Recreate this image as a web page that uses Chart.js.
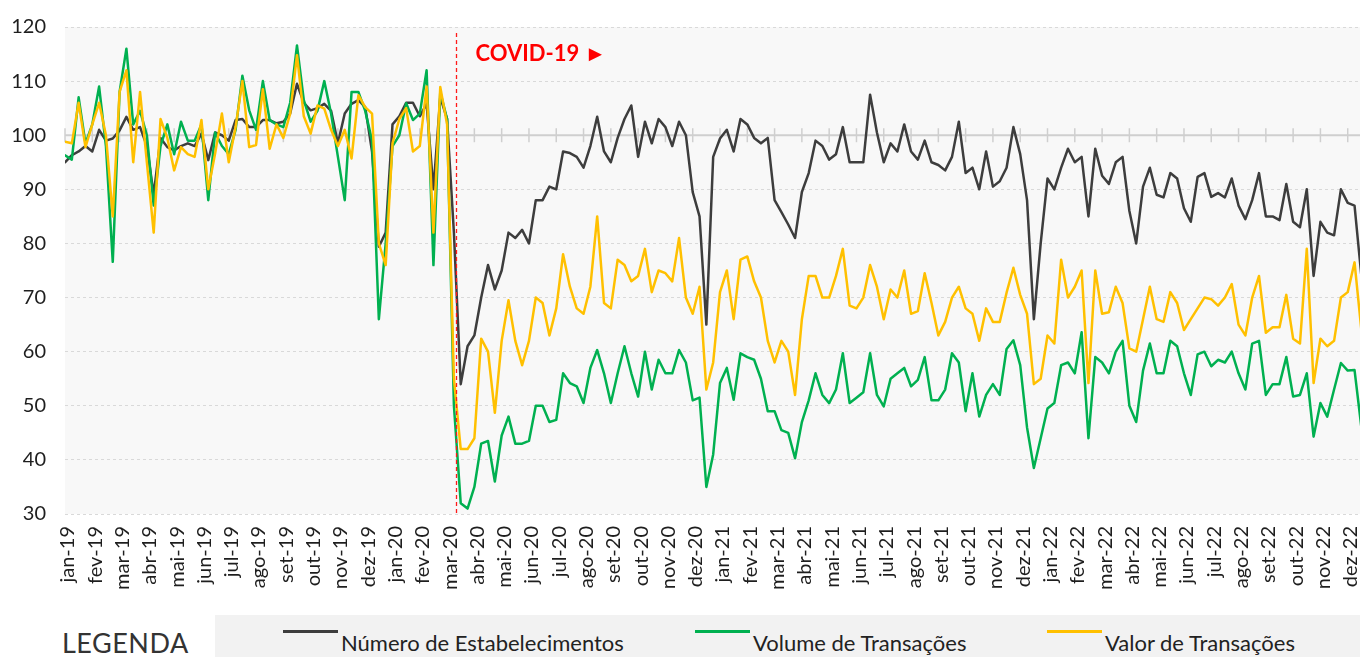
<!DOCTYPE html>
<html>
<head>
<meta charset="utf-8">
<script src="https://cdn.jsdelivr.net/npm/chart.js@4.4.0/dist/chart.umd.min.js"></script>
<style>
  html, body { margin:0; padding:0; background:#fff; width:1360px; height:657px; overflow:hidden; font-family: Lato, "Noto Sans", sans-serif; }
  #chartWrap { position:absolute; left:0; top:0; width:1360px; height:612px; }
  #legendTitle { position:absolute; left:62px; top:627px; font-size:27px; line-height:32px; color:#333; letter-spacing:0.5px; }
  #legendBox { position:absolute; left:215px; top:615px; width:1145px; height:42px; background:#f2f2f2; }
  .item { position:absolute; top:14px; height:28px; font-size:22px; line-height:28px; color:#222; white-space:nowrap; }
  .swatch { position:absolute; top:15px; width:55px; height:3px; }
</style>
</head>
<body>
<div id="chartWrap"><canvas id="c" width="1360" height="612"></canvas></div>
<div id="legendTitle">LEGENDA</div>
<div id="legendBox"></div>
<script>
// ---------- DATA (4 samples per month) ----------
const months = ["jan-19","fev-19","mar-19","abr-19","mai-19","jun-19","jul-19","ago-19","set-19","out-19","nov-19","dez-19",
                "jan-20","fev-20","mar-20","abr-20","mai-20","jun-20","jul-20","ago-20","set-20","out-20","nov-20","dez-20",
                "jan-21","fev-21","mar-21","abr-21","mai-21","jun-21","jul-21","ago-21","set-21","out-21","nov-21","dez-21",
                "jan-22","fev-22","mar-22","abr-22","mai-22","jun-22","jul-22","ago-22","set-22","out-22","nov-22","dez-22"];
const samplesPerMonth = 4;
const covidMonth = 14.33;        // ~11 Mar 2020
const baseValue = 100;
const seriesNames = ["Número de Estabelecimentos", "Volume de Transações", "Valor de Transações"];

const estabelecimentos = [
  95, 96.3, 97, 98,        97, 101, 99, 99.4,        100.9, 103.4, 101, 101.5,   98, 89, 99.5, 97.8,
  97.2, 98, 98.5, 98,      100.3, 95.4, 100.5, 100,  99, 102.8, 103, 101.5,      101.5, 102.8, 102.8, 102.2,
  102.5, 104, 109.5, 106,  104.6, 105, 105.8, 104.5, 98.5, 104, 105.8, 106.5,    105.2, 97, 79.4, 82,
  102, 103.5, 106, 106,    103.5, 105.8, 90, 107,    103, 82, 54, 61,            63, 70, 76, 71.5,
  75, 82, 81, 82.5,        80, 88, 88, 90.5,         90, 97, 96.7, 96,           94, 98, 103.4, 97,
  95, 99.5, 103, 105.5,    96, 102.5, 98.5, 103,     101.5, 98, 102.5, 100,      89.5, 85, 65, 96,
  99.4, 101, 97, 103,      102, 99.5, 98.5, 99.5,    88, 85.8, 83.5, 81,         89.5, 93, 99, 98,
  95.5, 96.5, 101.5, 95,   95, 95, 107.5, 100.5,     95, 98.5, 97, 102,          97, 95.5, 99, 95,
  94.5, 93.5, 96, 102.5,   93, 94, 90, 97,           90.5, 91.5, 94, 101.5,      96.5, 88, 66, 80,
  92, 90, 94, 97.5,        95, 96, 85, 97.5,         92.5, 91, 95, 96,           86, 80, 90.5, 94,
  89, 88.5, 93, 92,        86.5, 84, 92.3, 93,       88.6, 89.3, 88.5, 92,       87, 84.5, 88, 93,
  85, 85, 84.3, 91,        84, 83, 90, 74,           84, 82, 81.5, 90,           87.5, 87, 74
];

const volume = [
  96.3, 95.5, 107, 98.5,   102, 109, 98, 76.6,       108, 116, 102, 104.5,       100, 87, 98, 102,
  96.5, 102.5, 99, 99,     102, 88, 100.5, 98,       96.5, 101, 111, 104.6,      101, 110, 102.8, 102,
  101.5, 106, 116.6, 106.5, 102.5, 104.5, 110, 104, 96, 88, 108, 108,           104.5, 99, 66, 80,
  98, 100, 105.9, 102.8,   104, 112, 76, 108,        103, 50, 32, 31,            35, 43, 43.5, 36,
  44.5, 48, 43, 43,        43.5, 50, 50, 47,         47.4, 56, 54.2, 53.6,       50.5, 57, 60.3, 56,
  50.5, 56, 61, 56,        51.7, 60, 53, 58.5,       56, 56, 60.3, 58,           51, 51.5, 35, 41,
  54.2, 57, 51.1, 59.7,    59, 58.5, 55, 49,         49, 45.5, 45, 40.3,         47, 51, 56, 52,
  50.5, 53, 59.7, 50.5,    51.5, 52.5, 59.7, 52,     49.9, 55, 56, 57,           53.6, 54.8, 59, 51,
  51, 53, 59.7, 58,        49, 56, 48, 52,           54, 52, 60.5, 62.1,         57.5, 46, 38.5, 44,
  49.5, 50.5, 57.5, 58,    56, 63.6, 44, 59,         58, 56, 60, 62,             50, 47, 56.5, 61.5,
  56, 56, 62, 61,          56, 52, 59.5, 60,         57.3, 58.5, 58, 60,         56, 53, 61.5, 62,
  52, 54, 54, 59,          51.7, 52, 56, 44.3,       50.5, 48, 53, 57.9,         56.5, 56.6, 46
];

const valor = [
  98.8, 98.5, 106, 97.8,   102, 106, 100, 85,        108, 112, 95, 108,          95, 82, 103, 99.5,
  93.5, 97.8, 96.5, 96,    102.8, 90, 96.6, 104,     95, 101.5, 110, 97.8,       98.2, 108.5, 97.5, 102,
  99.5, 104, 114.8, 103.5, 100.3, 105.5, 104.9, 101, 98, 101, 95.7, 107.4,       105.2, 104, 80, 76,
  98.5, 103, 105, 97,      98, 109, 82, 108.9,       102, 55, 42, 42,            44, 62.4, 60, 48.7,
  62, 69.5, 62, 57.5,      62, 70, 69, 63,           68, 78, 72, 68,             67, 72, 85, 69,
  68, 77, 76, 73,          74, 79, 71, 75,           74.5, 73, 81, 70,           67, 72, 53, 58,
  71, 75, 66, 77,          77.6, 73, 70, 62,         58, 62, 60, 52,             66, 74, 74, 70,
  70, 74, 79, 68.5,        68, 70, 76, 72,           66, 71.5, 70, 75,           67, 67.5, 74.5, 69,
  63, 65.5, 70, 72,        68, 67, 62, 68,           65.5, 65.5, 70.9, 75.5,     70.5, 67, 54, 55,
  63, 61.5, 77, 70,        72, 75, 54.2, 75,         67, 67.3, 72, 69,           60.6, 60, 66, 72,
  66, 65.5, 71, 69,        64, 66, 68, 70,           69.7, 68.5, 70, 72.5,       65, 63, 70, 74,
  63.5, 64.5, 64.5, 70.5,  62.4, 61.5, 79, 54.2,     62.4, 61, 62, 70,           71, 76.5, 64
];

const seriesColors = ["#3d3d3d", "#00b050", "#ffc000"];
const xMax = 47.45;   // data runs to mid-December 2022

// ---------- helpers ----------
const toPoints = arr => arr.map((v, i) => ({ x: i / samplesPerMonth, y: v }));

const decorPlugin = {
  id: 'decor',
  beforeDraw(chart) {
    const { ctx, chartArea: a } = chart;
    ctx.save();
    ctx.fillStyle = '#f8f8f8';
    ctx.fillRect(a.left, a.top, a.right - a.left, a.bottom - a.top);
    ctx.restore();
  },
  beforeDatasetsDraw(chart) {
    const { ctx, chartArea: a, scales: { x, y } } = chart;
    const yb = y.getPixelForValue(baseValue);
    ctx.save();
    ctx.strokeStyle = '#cfcfcf';
    ctx.lineWidth = 2;
    ctx.beginPath(); ctx.moveTo(a.left, yb); ctx.lineTo(a.right, yb); ctx.stroke();
    ctx.lineWidth = 1.5;
    months.forEach((m, k) => {
      const px = x.getPixelForValue(k);
      ctx.beginPath(); ctx.moveTo(px, yb - 7); ctx.lineTo(px, yb + 7); ctx.stroke();
    });
    ctx.restore();
  },
  afterDatasetsDraw(chart) {
    const { ctx, chartArea: a, scales: { x } } = chart;
    const px = Math.round(x.getPixelForValue(covidMonth)) + 0.5;
    ctx.save();
    ctx.strokeStyle = '#ff1a1a';
    ctx.lineWidth = 1.3;
    ctx.setLineDash([4, 3]);
    ctx.beginPath(); ctx.moveTo(px, a.top + 6); ctx.lineTo(px, a.bottom); ctx.stroke();
    ctx.setLineDash([]);
    ctx.fillStyle = '#ff0000';
    ctx.font = 'bold 22px Lato, "Noto Sans", sans-serif';
    ctx.textBaseline = 'middle';
    ctx.textAlign = 'left';
    ctx.fillText('COVID-19 \u25BA', px + 19, a.top + 27);
    ctx.restore();
  }
};

new Chart(document.getElementById('c'), {
  type: 'line',
  data: {
    datasets: [
      { label: seriesNames[2], data: toPoints(valor), borderColor: seriesColors[2], order: 0 },
      { label: seriesNames[1], data: toPoints(volume), borderColor: seriesColors[1], order: 1 },
      { label: seriesNames[0], data: toPoints(estabelecimentos), borderColor: seriesColors[0], order: 2 }
    ]
  },
  options: {
    responsive: false,
    devicePixelRatio: 1,
    animation: false,
    events: [],
    elements: {
      line: { borderWidth: 2.5, tension: 0, fill: false, borderJoinStyle: 'round', borderCapStyle: 'round' },
      point: { radius: 0 }
    },
    layout: { padding: { top: 27, right: 0, left: 0, bottom: 0 } },
    plugins: { legend: { display: false }, tooltip: { enabled: false } },
    scales: {
      x: {
        type: 'linear',
        min: 0,
        max: xMax,
        afterBuildTicks(scale) { scale.ticks = months.map((m, k) => ({ value: k })); },
        afterFit(scale) { scale.height = 98; scale.paddingLeft = 0; scale.paddingRight = 0; },
        ticks: {
          autoSkip: false, minRotation: 90, maxRotation: 90, padding: 12, labelOffset: 3,
          color: '#1e1e1e', font: { family: 'Lato', size: 20 },
          callback: (v) => months[Math.round(v)]
        },
        grid: { display: false, drawTicks: false },
        border: { display: false }
      },
      y: {
        min: 30, max: 120,
        afterFit(scale) { scale.width = 65; scale.paddingTop = 0; scale.paddingBottom = 0; },
        ticks: { stepSize: 10, padding: 19, color: '#1e1e1e', font: { family: 'Lato', size: 20 } },
        grid: { color: '#d9d9d9', lineWidth: 1, drawTicks: false },
        border: { display: false, dash: [3, 3] }
      }
    }
  },
  plugins: [decorPlugin]
});

// ---------- HTML legend (real text) ----------
const box = document.getElementById('legendBox');
const legendX = [68, 480, 832];
[0, 1, 2].forEach(k => {
  const sw = document.createElement('div');
  sw.className = 'swatch';
  sw.style.left = legendX[k] + 'px';
  sw.style.background = seriesColors[k];
  box.appendChild(sw);
  const t = document.createElement('div');
  t.className = 'item';
  t.style.left = (legendX[k] + 58) + 'px';
  t.textContent = seriesNames[k];
  box.appendChild(t);
});
</script>
</body>
</html>
